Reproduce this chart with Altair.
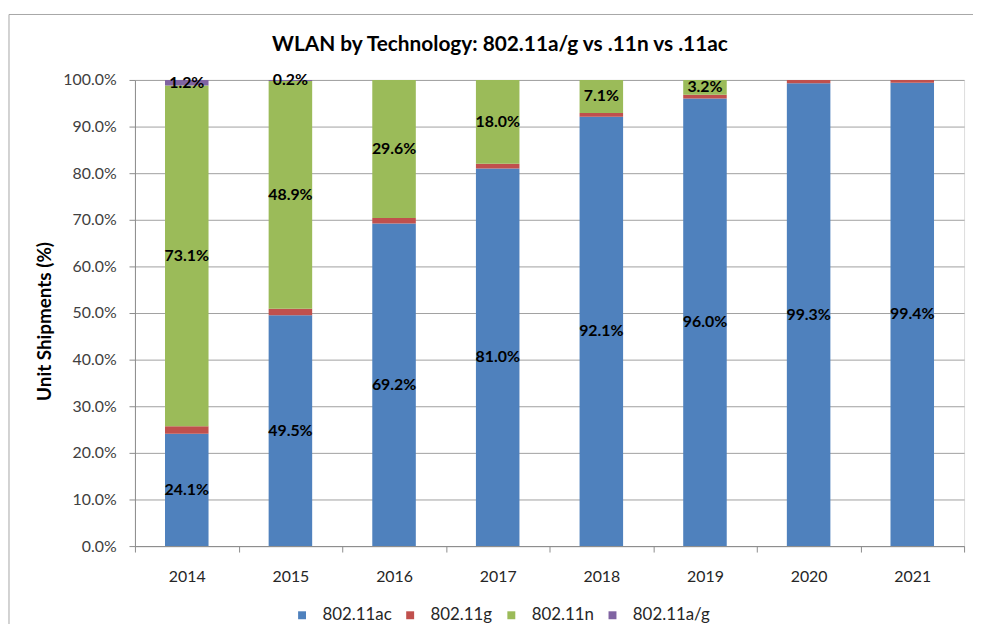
import altair as alt
import pandas as pd

years = ["2014", "2015", "2016", "2017", "2018", "2019", "2020", "2021"]
series = ["802.11ac", "802.11g", "802.11n", "802.11a/g"]
ac = [24.1, 49.5, 69.2, 81.0, 92.1, 96.0, 99.3, 99.4]
g = [1.6, 1.4, 1.2, 1.0, 0.8, 0.8, 0.7, 0.6]
n = [73.1, 48.9, 29.6, 18.0, 7.1, 3.2, 0.0, 0.0]
ag = [1.2, 0.2, 0.0, 0.0, 0.0, 0.0, 0.0, 0.0]
colors = ["#4F81BD", "#C0504D", "#9BBB59", "#8064A2"]
y_ticks = [0, 10, 20, 30, 40, 50, 60, 70, 80, 90, 100]

rows = []
for si, (name, vals) in enumerate(zip(series, [ac, g, n, ag])):
    for yr, v in zip(years, vals):
        rows.append({"year": yr, "series": name, "value": v, "order": si})
df = pd.DataFrame(rows)

FONT = "Lato"

base = alt.Chart(df).transform_stack(
    stack="value", groupby=["year"], as_=["y0", "y1"],
    sort=[alt.SortField("order", order="ascending")]
)

xenc = alt.X("year:N", title=None,
             scale=alt.Scale(paddingInner=0, paddingOuter=0),
             axis=alt.Axis(labelAngle=0, tickBand="extent", tickSize=6,
                           labelPadding=17, labelFontSize=16, labelColor="#262626",
                           domainColor="#8c8c8c", tickColor="#8c8c8c", grid=False,
                           labelFont=FONT))

bars = base.mark_bar(width={"band": 0.42}).encode(
    x=xenc,
    y=alt.Y("y0:Q", title="Unit Shipments (%)",
            scale=alt.Scale(domain=[0, 100], nice=False),
            axis=alt.Axis(values=y_ticks, labelExpr="format(datum.value, '.1f') + '%'",
                          tickSize=6, labelPadding=13, labelFontSize=16,
                          labelColor="#404040", gridColor="#a0a0a0",
                          domainColor="#8c8c8c", tickColor="#8c8c8c",
                          titleFontSize=19, titleFontWeight="bold", titleColor="#000000",
                          titleX=-91, titleY=243, titleAngle=270, titleAlign="center",
                          titleBaseline="middle", labelFont=FONT, titleFont=FONT)),
    y2="y1:Q",
    color=alt.Color("series:N", scale=alt.Scale(domain=series, range=colors),
                    legend=alt.Legend(title=None, orient="none", direction="horizontal",
                                      legendX=160, legendY=531, symbolType="square",
                                      symbolSize=64, symbolStrokeWidth=0,
                                      labelFontSize=17, labelColor="#262626",
                                      labelFont=FONT, columnPadding=10, labelOffset=12,
                                      padding=0)),
    order=alt.Order("order:Q"),
)

labels = base.transform_filter(
    "datum.series != '802.11g' && datum.value > 0"
).transform_calculate(
    mid="(datum.y0 + datum.y1) / 2",
    label="format(datum.value, '.1f') + '%'",
).mark_text(fontWeight="bold", fontSize=16, font=FONT, color="#000000",
            baseline="middle").encode(
    x=alt.X("year:N"),
    y=alt.Y("mid:Q"),
    text="label:N",
)

frame = alt.Chart(pd.DataFrame({"a": [0]})).mark_rect(
    fill=None, stroke="#a6a6a6", strokeWidth=1, clip=False
).encode(x=alt.value(-127), x2=alt.value(850), y=alt.value(-66), y2=alt.value(600))

chart = alt.layer(frame, bars, labels).properties(
    width=836, height=470,
    title=alt.TitleParams("WLAN by Technology: 802.11a/g vs .11n vs .11ac",
                          fontSize=21, font=FONT, fontWeight="bold", color="#000000",
                          anchor="middle", dx=-50, offset=0, dy=41),
    autosize=alt.AutoSizeParams(type="none"),
    padding={"left": 128, "top": 70, "right": 9, "bottom": 76},
).configure_view(stroke=None).configure(background="white")

chart.save("out.html", embed_options={"renderer": "svg", "actions": False})
